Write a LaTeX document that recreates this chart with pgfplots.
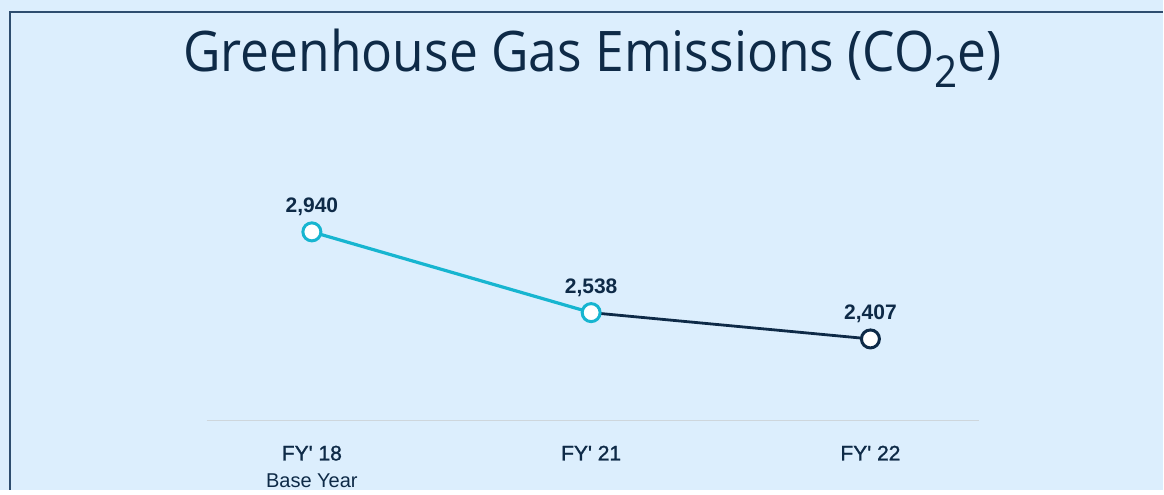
\documentclass[border=0pt]{standalone}
\usepackage{pgfplots}
\pgfplotsset{compat=1.18}
\usepackage{fontspec}
\setmainfont{Liberation Sans}
\newfontfamily\medfont[FakeBold=1.2]{Liberation Sans}
\newfontfamily\titlefont[FakeStretch=0.92]{Open Sans}
\definecolor{bg}{HTML}{DCEEFD}
\definecolor{navy}{HTML}{0E2A47}
\definecolor{cyanl}{HTML}{17B5D0}
\definecolor{bordc}{HTML}{2E4D6F}
\definecolor{gridc}{HTML}{CED6DC}
\begin{document}
\begin{tikzpicture}[x=1pt,y=1pt]
\fill[bg] (0,0) rectangle (582,245);
\draw[bordc, line width=0.8pt] (5,0) -- (5,239) -- (582,239);
\node[font=\titlefont\fontsize{28}{30}\selectfont, text=navy, anchor=base, inner sep=0pt] at (296.5,209) {Greenhouse Gas Emissions (CO\raisebox{-8pt}{\fontsize{22}{24}\selectfont 2}e)};
\begin{axis}[at={(103.5pt,34.5pt)}, anchor=south west, scale only axis,
  width=386.5pt, height=135.5pt,
  xmin=-0.376, xmax=2.39, ymin=2000, ymax=3348,
  axis y line=none, axis x line=bottom,
  x axis line style={-, draw=gridc, line width=0.75pt},
  xtick={0,1,2},
  xticklabels={{\medfont FY\textquotesingle\ 18\\[-0.5pt]{\fontsize{10}{12}\selectfont Base Year}}, {\medfont FY\textquotesingle\ 21}, {\medfont FY\textquotesingle\ 22}},
  major tick length=0pt,
  xticklabel style={align=center, font=\fontsize{10.5}{14}\selectfont, text=navy, anchor=north, yshift=-9pt},
  clip=false,
  nodes near coords style={font=\bfseries\fontsize{10.5}{12}\selectfont, text=navy, anchor=base, yshift=9.5pt, inner sep=0pt},
  ]
\addplot[navy, line width=1.4pt, mark=*, mark indices={2}, mark size=4.5pt,
  mark options={fill=white, draw=navy, line width=1.5pt},
  nodes near coords, point meta=explicit symbolic]
  coordinates {(1,2538) [] (2,2407) [2,407]};
\addplot[cyanl, line width=1.6pt, mark=*, mark size=4.5pt,
  mark options={fill=white, draw=cyanl, line width=1.5pt},
  nodes near coords, point meta=explicit symbolic]
  coordinates {(0,2940) [2,940] (1,2538) [2,538]};
\end{axis}
\end{tikzpicture}
\end{document}
